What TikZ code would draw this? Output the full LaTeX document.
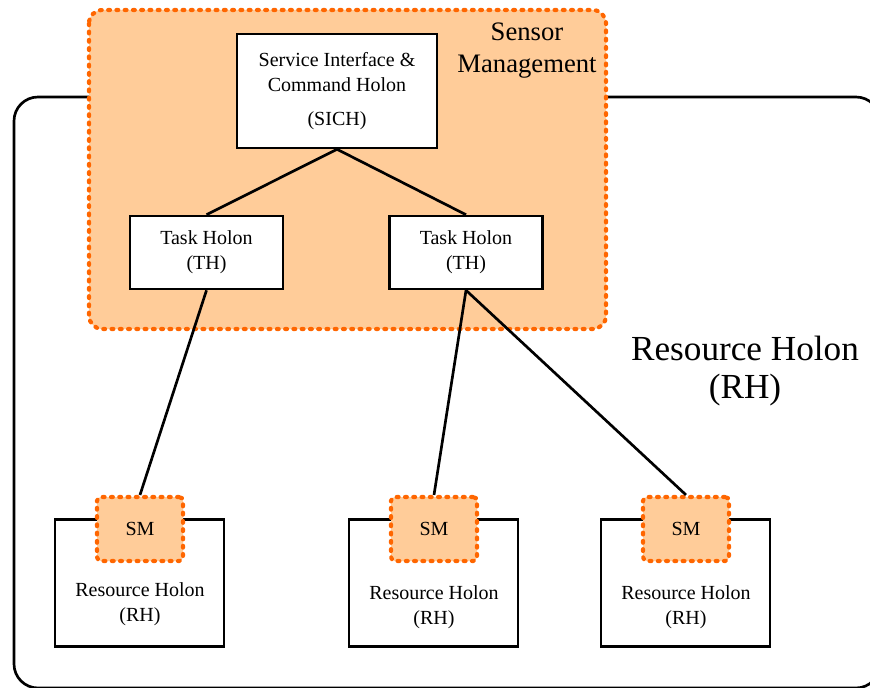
\documentclass[tikz,border=0pt]{standalone}
\usepackage{fontspec}
\setmainfont{Liberation Serif}
\usetikzlibrary{arrows,positioning}

\definecolor{smfill}{RGB}{255,204,153}
\definecolor{smline}{RGB}{255,102,0}

\begin{document}
\begin{tikzpicture}[x=0.75pt,y=-0.75pt,-,line width=2pt,
    holon/.style={draw,fill=white,line width=1.9pt,align=center,inner sep=0pt,
                  font=\fontsize{15}{19}\selectfont},
    sensor/.style={draw=smline,fill=smfill,line width=3.1pt,line cap=round,
                   dash pattern=on 1.4pt off 4.8pt},
    lbl/.style={align=center,inner sep=0pt,font=\fontsize{15}{18.5}\selectfont}]

  \useasboundingbox (0,0) rectangle (870,688);
  \clip (0,0) rectangle (870,688);

  % whole resource holon and sensor management area
  \draw[line width=2pt,rounded corners=18] (14,97) rectangle (880,688);
  \draw[sensor,rounded corners=10] (89,10) rectangle (606,329);

  \node[align=center,inner sep=0pt,font=\fontsize{20}{24}\selectfont]
       (smtitle) at (527,51) {Sensor\\Management};
  \node[align=center,inner sep=0pt,font=\fontsize{26.4}{28.6}\selectfont]
       (rhtitle) at (745,371) {Resource Holon\\(RH)};

  \node[holon,minimum width=150pt,minimum height=85.5pt]
       (SICH) at (337,91) {Service Interface \&\\Command Holon\\[6pt](SICH)};
  \node[holon,minimum width=114.75pt,minimum height=54.75pt]
       (TH1) at (206.5,252.5) {Task Holon\\(TH)};
  \node[holon,minimum width=114.75pt,minimum height=54.75pt]
       (TH2) at (466,252.5) {Task Holon\\(TH)};

  % resource holons with their sensor managers
  \node[holon,minimum width=126.75pt,minimum height=95.25pt] (RH1) at (139.5,583) {};
  \node[holon,minimum width=126.75pt,minimum height=95.25pt] (RH2) at (433.5,583) {};
  \node[holon,minimum width=126.75pt,minimum height=95.25pt] (RH3) at (685.5,583) {};

  \node[sensor,rounded corners=3,minimum width=64.5pt,minimum height=48pt,
        font=\fontsize{15}{18}\selectfont] (SM1) at (140,529) {SM};
  \node[sensor,rounded corners=3,minimum width=64.5pt,minimum height=48pt,
        font=\fontsize{15}{18}\selectfont] (SM2) at (434,529) {SM};
  \node[sensor,rounded corners=3,minimum width=64.5pt,minimum height=48pt,
        font=\fontsize{15}{18}\selectfont] (SM3) at (686,529) {SM};

  \node[lbl] (RH1t) [below=14pt of SM1] {Resource Holon\\(RH)};
  \node[lbl] (RH2t) [below=16pt of SM2] {Resource Holon\\(RH)};
  \node[lbl] (RH3t) [below=16pt of SM3] {Resource Holon\\(RH)};

  \path (SICH.south) edge (TH1.north)
                     edge (TH2.north)
        (TH1.south)  edge (SM1.north)
        (TH2.south)  edge (SM2.north)
                     edge (SM3.north);

\end{tikzpicture}
\end{document}
